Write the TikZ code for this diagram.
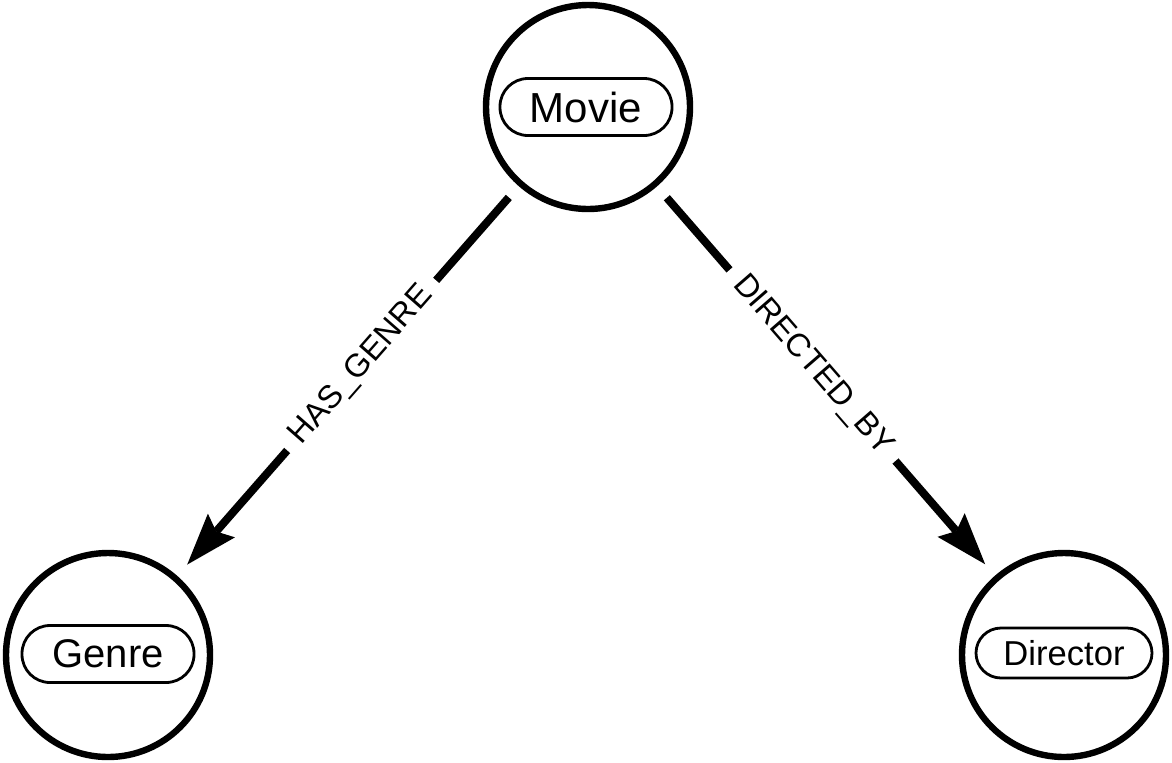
\documentclass[tikz,border=0pt]{standalone}
\usepackage{fontspec}
\setmainfont{Liberation Sans}
\usetikzlibrary{arrows.meta}
\begin{document}
\begin{tikzpicture}[x=0.5pt,y=-0.5pt,
  entity/.style={circle, draw, line width=3.2pt, minimum size=102pt, inner sep=0pt},
  pill/.style={draw, line width=1.4pt, rounded corners=14pt, minimum width=86pt, minimum height=28.5pt, inner sep=0pt},
  rel/.style={line width=4pt, -{Stealth[length=26pt,width=18pt,inset=4pt,line width=0pt]}, shorten <=7.5pt, shorten >=7.5pt},
  rellabel/.style={fill=white, font=\fontsize{16.2}{19}\selectfont, sloped, inner xsep=6.5pt, inner ysep=2pt}
]
\useasboundingbox (0,0) rectangle (1172,762);
\node[entity] (movie) at (588,107) {};
\node[entity] (genre) at (108,655) {};
\node[entity] (director) at (1064,655) {};
\node[pill, font=\fontsize{21}{24}\selectfont] (movielbl) at (586,107) {Movie};
\node[pill, font=\fontsize{20}{24}\selectfont] (genrelbl) at (108,654) {Genre};
\node[pill, minimum height=25pt, rounded corners=12.5pt, minimum width=88pt, font=\fontsize{17.3}{20}\selectfont] (directorlbl) at (1064,653) {Director};
\draw[rel] (movie) -- node[rellabel, pos=0.46] {HAS\_GENRE} (genre);
\draw[rel] (movie) -- node[rellabel, pos=0.46] {DIRECTED\_BY} (director);
\end{tikzpicture}
\end{document}
